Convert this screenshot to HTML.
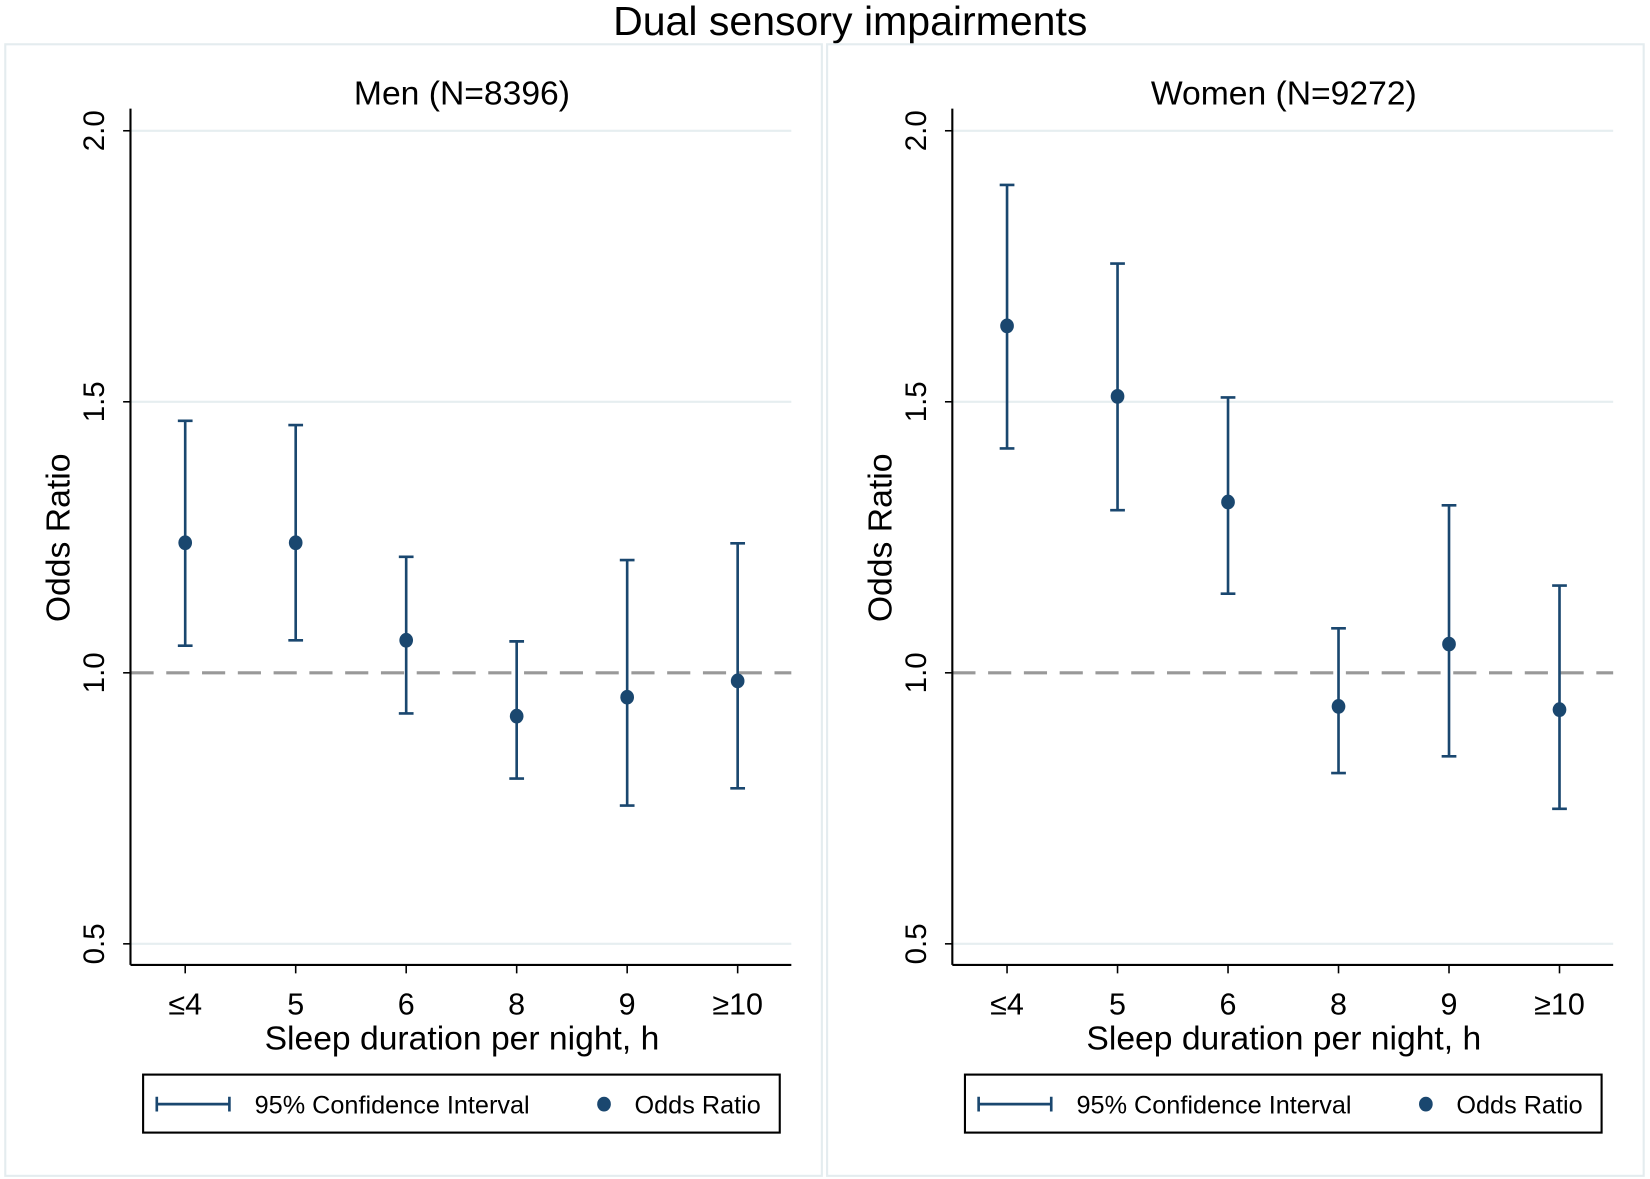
<!DOCTYPE html>
<html><head><meta charset="utf-8"><style>
html,body{margin:0;padding:0;background:#fff;}
svg{display:block;font-family:"Liberation Sans",Arial,sans-serif;}
</style></head><body>
<svg id="chart" width="1650" height="1179" viewBox="0 0 1568 1118" preserveAspectRatio="none" xmlns="http://www.w3.org/2000/svg">
<rect width="1568" height="1118" fill="#fff"/>
<text x="808" y="33" font-size="39" text-anchor="middle" fill="#000">Dual sensory impairments</text>
<g id="panels"></g>
</svg>
<script>
const categories = ["\u22644","5","6","8","9","\u226510"];
const yTicks = [0.5,1.0,1.5,2.0];
const yTickLabels = ["0.5","1.0","1.5","2.0"];
const panelTitles = ["Men (N=8396)","Women (N=9272)"];
const menOR   = [1.24,1.24,1.06,0.92,0.955,0.985];
const menLow  = [1.05,1.06,0.925,0.805,0.755,0.787];
const menHigh = [1.465,1.457,1.214,1.058,1.208,1.239];
const womenOR   = [1.64,1.51,1.315,0.938,1.053,0.932];
const womenLow  = [1.414,1.30,1.146,0.815,0.846,0.749];
const womenHigh = [1.90,1.755,1.508,1.082,1.309,1.161];

const NS="http://www.w3.org/2000/svg";
const root=document.getElementById('panels');
function mk(tag,attrs,parent,text){const e=document.createElementNS(NS,tag);for(const k in attrs)e.setAttribute(k,attrs[k]);if(text!==undefined)e.textContent=text;parent.appendChild(e);return e;}
const navy="#1a476f";
const series=[[menOR,menLow,menHigh],[womenOR,womenLow,womenHigh]];
[0,1].forEach(p=>{
  const off = p===0?0:781;
  const g=mk('g',{},root);
  
  
  const frame=mk('rect',{x:5+off,y:42,width:776,height:1073,fill:'none',stroke:'#e4ecef','stroke-width':2},g);
  
  
  const axL=124+off, axR=752+off, axB=915, axT=103;
  const y=v=>638-(v-1)*514;
  const x=i=>176+off+i*105;
  const t=mk('text',{x:439+off,y:99,'font-size':32,'text-anchor':'middle',fill:'#000'},g,panelTitles[p]);
  
  
  yTicks.forEach((v,i)=>{
    if(v!==1.0){const gl=mk('line',{x1:axL,x2:axR,y1:y(v),y2:y(v),stroke:'#e6eef0','stroke-width':2},g);
      
      }
    mk('line',{x1:axL-7,x2:axL,y1:y(v),y2:y(v),stroke:'#000','stroke-width':1.5},g);
    const tl=mk('text',{x:0,y:0,'font-size':28,'text-anchor':'middle',fill:'#000',transform:`translate(${axL-25},${y(v)}) rotate(-90)`},g,yTickLabels[i]);
    
    
  });
  const ref=mk('line',{x1:axL,x2:axR,y1:y(1),y2:y(1),stroke:'#999','stroke-width':3,'stroke-dasharray':'22,12'},g);
  
  
  mk('line',{x1:axL,x2:axL,y1:axT,y2:axB,stroke:'#000','stroke-width':2},g);
  mk('line',{x1:axL,x2:axR,y1:axB,y2:axB,stroke:'#000','stroke-width':2},g);
  const yt=mk('text',{x:0,y:0,'font-size':32,'text-anchor':'middle',fill:'#000',transform:`translate(${66+off},510) rotate(-90)`},g,'Odds Ratio');
  
  
  const [or,lo,hi]=series[p];
  categories.forEach((c,i)=>{
    mk('line',{x1:x(i),x2:x(i),y1:axB,y2:axB+8,stroke:'#000','stroke-width':1.5},g);
    const xl=mk('text',{x:x(i),y:962,'font-size':29,'text-anchor':'middle',fill:'#000'},g,c);
    
    
    const eb=mk('path',{d:`M${x(i)},${y(hi[i])}V${y(lo[i])}M${x(i)-7},${y(hi[i])}H${x(i)+7}M${x(i)-7},${y(lo[i])}H${x(i)+7}`,stroke:navy,'stroke-width':2.5,fill:'none'},g);
    
    
    const dot=mk('ellipse',{cx:x(i),cy:y(or[i]),rx:6.5,ry:7,fill:navy},g);
    
    
  });
  const xt=mk('text',{x:439+off,y:995,'font-size':32,'text-anchor':'middle',fill:'#000'},g,'Sleep duration per night, h');
  
  
  const lg=mk('g',{},g);
  
  
  mk('rect',{x:136+off,y:1019,width:605,height:55,fill:'#fff',stroke:'#000','stroke-width':2},lg);
  mk('path',{d:`M${149+off},1047H${218+off}M${149+off},1040V1054M${218+off},1040V1054`,stroke:navy,'stroke-width':2.5},lg);
  mk('text',{x:242+off,y:1056,'font-size':24,fill:'#000'},lg,'95% Confidence Interval');
  mk('ellipse',{cx:574+off,cy:1047,rx:6.5,ry:7,fill:navy},lg);
  mk('text',{x:603+off,y:1056,'font-size':24,fill:'#000'},lg,'Odds Ratio');
});
</script>
</body></html>
